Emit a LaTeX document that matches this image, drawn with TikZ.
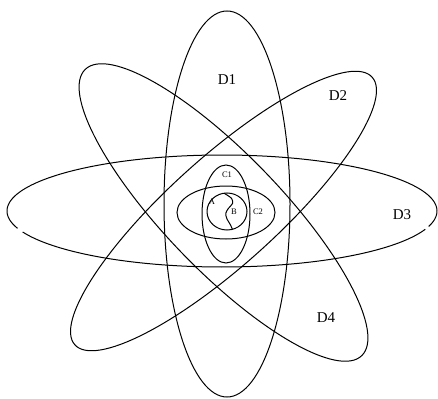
\documentclass[tikz,border=0pt]{standalone}
\usepackage{fontspec}
\setmainfont{Liberation Serif}
\usetikzlibrary{positioning}
\tikzset{
  orbit/.style={draw=black, line width=1pt},
  biglabel/.style={font=\fontsize{15}{15}\selectfont, inner sep=0pt},
  smalllabel/.style={font=\fontsize{8.5}{8.5}\selectfont, inner sep=0pt},
}

\begin{document}
\begin{tikzpicture}[x=1pt, y=-1pt]
  \useasboundingbox (0,0) rectangle (438,398);
  % outer ellipses D1..D4
  \draw[orbit] (227,204) ellipse [x radius=63, y radius=193];
  \draw[orbit, rotate around={42:(223.5,211)}]
    (223.5,211) ellipse [x radius=200, y radius=54];
  \draw[orbit, samples=120, domain=19:158]
    plot ({222+215*cos(\x)}, {211+56*sin(\x)});
  \draw[orbit, samples=160, domain=162:376]
    plot ({222+215*cos(\x)}, {211+56*sin(\x)});
  \draw[orbit, rotate around={-46:(223.5,212.5)}]
    (223.5,212.5) ellipse [x radius=199, y radius=58];
  % inner ellipses C1, C2 and the circle
  \draw[orbit] (226,214) ellipse [x radius=24, y radius=49];
  \draw[orbit] (226,212.5) ellipse [x radius=49, y radius=26.5];
  \draw[orbit] (227,211.5) ellipse [x radius=20, y radius=18.5];
  \draw[orbit, smooth] plot coordinates {(224,193.2) (231.5,198.3) (232.5,203.5)
    (228.3,208.5) (225.8,213.3) (226.8,218.5) (230.5,225) (232.5,229.5)};
  % labels
  \node[biglabel] (d1) at (227,80) {D1};
  \node[biglabel] (d2) at (338,96) {D2};
  \node[biglabel] (d3) at (402,215) {D3};
  \node[biglabel] (d4) at (326,318) {D4};
  \node[smalllabel] (c1) at (227,175) {C1};
  \node[smalllabel] (c2) at (258,212) {C2};
  \node[smalllabel] (a) at (212,202) {A};
  \node[smalllabel] (b) at (234,212) {B};
\end{tikzpicture}
\end{document}
